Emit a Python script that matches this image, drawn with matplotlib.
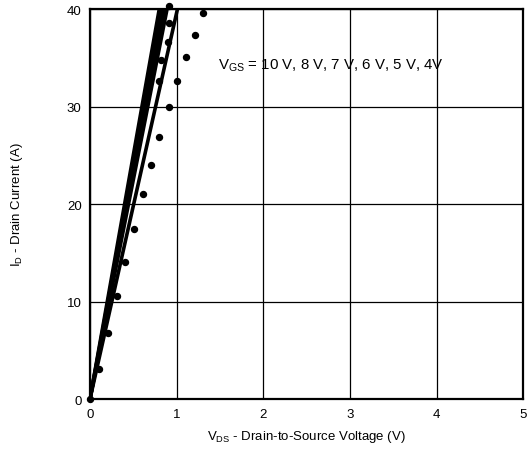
import matplotlib.pyplot as plt

plt.rcParams["font.family"] = ["Liberation Sans", "DejaVu Sans"]

# V_DS at which each V_GS line reaches I_D = 40 A (straight lines from origin)
vgs_labels = ["10 V", "8 V", "7 V", "6 V", "5 V"]
vds_at_40 = [0.80, 0.83, 0.86, 0.89, 1.01]
id_max = 40

# 4 V curve (dots)
vds_4v = [0.0, 0.10, 0.21, 0.31, 0.40, 0.51, 0.61, 0.71, 0.80, 0.91, 1.01, 1.11, 1.21, 1.31]
id_4v = [0.0, 3.1, 6.8, 10.6, 14.1, 17.5, 21.0, 24.0, 26.9, 30.0, 32.6, 35.1, 37.3, 39.6]

# extra dots riding on the steep band
vds_band = [0.80, 0.82, 0.90, 0.91, 0.91]
id_band = [32.6, 34.8, 36.6, 38.6, 40.3]

fig = plt.figure(figsize=(5.29, 4.6), dpi=100)
ax = fig.add_axes([0.170, 0.130, 0.819, 0.848])

for v in vds_at_40:
    ax.plot([0, v], [0, id_max], color="black", lw=2.6, solid_capstyle="butt", zorder=3)

ax.plot(vds_4v, id_4v, "o", color="black", ms=4.3, zorder=4, clip_on=False)
ax.plot(vds_band, id_band, "o", color="black", ms=4.3, zorder=4, clip_on=False)

ax.set_xlim(0, 5)
ax.set_ylim(0, 40)
ax.set_xticks(range(0, 6))
ax.set_yticks(range(0, 41, 10))
ax.grid(True, color="black", lw=0.9)
ax.tick_params(length=0, labelsize=9.5, pad=6)
for s in ax.spines.values():
    s.set_linewidth(1.6)

ax.set_xlabel("V$_{\\mathregular{DS}}$ - Drain-to-Source Voltage (V)", fontsize=9.5, labelpad=6)
ax.set_ylabel("I$_{\\mathregular{D}}$ - Drain Current (A)", fontsize=9.5, labelpad=30)

ax.text(1.48, 34.3, "V$_{\\mathregular{GS}}$ = 10 V, 8 V, 7 V, 6 V, 5 V, 4V",
        fontsize=10.8, va="center", ha="left", zorder=5)

fig.savefig("out.png", dpi=100)
